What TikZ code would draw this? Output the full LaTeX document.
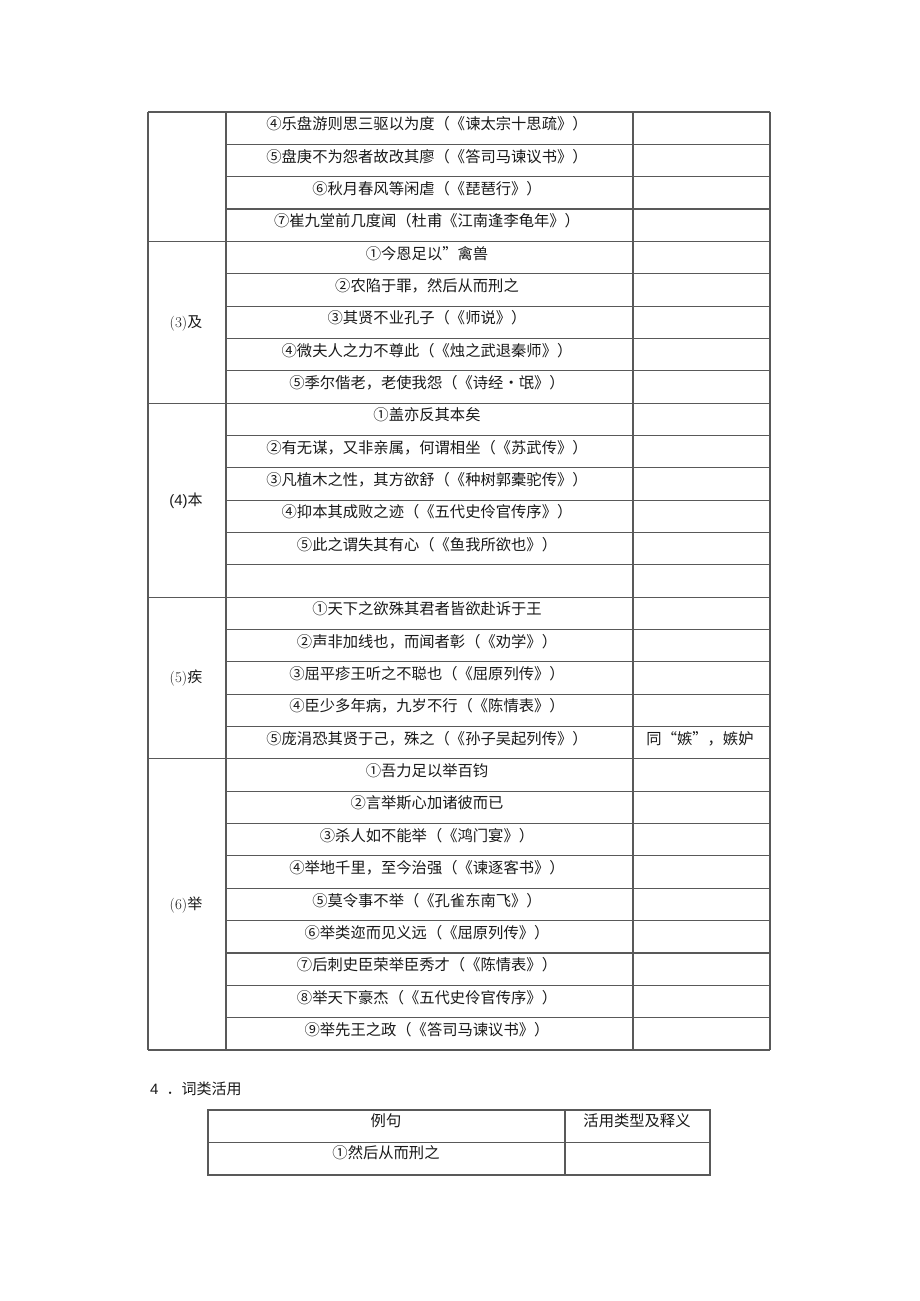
\documentclass[tikz,border=0pt]{standalone}
\usepackage{fontspec}
\newfontfamily\cjk{Noto Sans CJK SC}
\newfontfamily\arialf{Liberation Sans}
\begin{document}
\begin{tikzpicture}[x=1pt,y=-1pt,
  grid/.style={draw=black!65, line width=1.1pt},
  cell/.style={font=\cjk\fontsize{15.3}{17}\selectfont, text=black!90, inner sep=0pt, anchor=center},
  lab/.style={font=\fontsize{15}{17}\selectfont, text=black!90, inner sep=0pt, anchor=center}]
\useasboundingbox (0,0) rectangle (920,1301);
\def\rh{32.3448}
% ---- main table grid ----
\foreach \i in {1,2,3,5,6,7,8,10,11,12,13,14,16,17,18,19,21,22,23,24,25,26,27,28}{
  \draw[grid] (226,{112+\i*\rh}) -- (770,{112+\i*\rh});
}
\foreach \i in {0,4,9,15,20,29}{
  \draw[grid] (148,{112+\i*\rh}) -- (770,{112+\i*\rh});
}
\draw[grid] (148,112) -- (148,1050);
\draw[grid] (226,112) -- (226,1050);
\draw[grid] (633,112) -- (633,1050);
\draw[grid] (770,112) -- (770,1050);
% ---- main column texts ----
\foreach \i/\t in {
 0/{④乐盘游则思三驱以为度（《谏太宗十思疏》）},
 1/{⑤盘庚不为怨者故改其廖（《答司马谏议书》）},
 2/{⑥秋月春风等闲虐（《琵琶行》）},
 3/{⑦崔九堂前几度闻（杜甫《江南逢李龟年》）},
 4/{①今恩足以”禽兽},
 5/{②农陷于罪，然后从而刑之},
 6/{③其贤不业孔子（《师说》）},
 7/{④微夫人之力不尊此（《烛之武退秦师》）},
 8/{⑤季尔偕老，老使我怨（《诗经•氓》）},
 9/{①盖亦反其本矣},
 10/{②有无谋，又非亲属，何谓相坐（《苏武传》）},
 11/{③凡植木之性，其方欲舒（《种树郭橐驼传》）},
 12/{④抑本其成败之迹（《五代史伶官传序》）},
 13/{⑤此之谓失其有心（《鱼我所欲也》）},
 15/{①天下之欲殊其君者皆欲赴诉于王},
 16/{②声非加线也，而闻者彰（《劝学》）},
 17/{③屈平疹王听之不聪也（《屈原列传》）},
 18/{④臣少多年病，九岁不行（《陈情表》）},
 19/{⑤庞涓恐其贤于己，殊之（《孙子吴起列传》）},
 20/{①吾力足以举百钧},
 21/{②言举斯心加诸彼而已},
 22/{③杀人如不能举（《鸿门宴》）},
 23/{④举地千里，至今治强（《谏逐客书》）},
 24/{⑤莫令事不举（《孔雀东南飞》）},
 25/{⑥举类迩而见义远（《屈原列传》）},
 26/{⑦后刺史臣荣举臣秀才（《陈情表》）},
 27/{⑧举天下豪杰（《五代史伶官传序》）},
 28/{⑨举先王之政（《答司马谏议书》）}}{
  \node[cell] (r\i) at (427,{112+\i*\rh+12}) {\t};
}
\node[cell] (ans19) at (700,{112+19*\rh+12}) {同“嫉”，嫉妒};
% ---- first column labels ----
\node[lab] (g3) at (186,323) {(3){\cjk 及}};
\node[lab] (g4) at (186,501) {{\arialf (4)}{\cjk 本}};
\node[lab] (g5) at (186,678) {(5){\cjk 疾}};
\node[lab] (g6) at (186,905) {(6){\cjk 举}};
% ---- section 4 ----
\node[lab, anchor=west] (s4) at (150,1089) {{\arialf 4}\hspace{8pt}{\cjk ．词类活用}};
\draw[grid] (208,1110) rectangle (710,1175);
\draw[grid] (208,1142.5) -- (710,1142.5);
\draw[grid] (565,1110) -- (565,1175);
\node[cell] (h1) at (386,1121) {例句};
\node[cell] (h2) at (637,1121) {活用类型及释义};
\node[cell] (e1) at (386,1153) {①然后从而刑之};
\end{tikzpicture}
\end{document}
